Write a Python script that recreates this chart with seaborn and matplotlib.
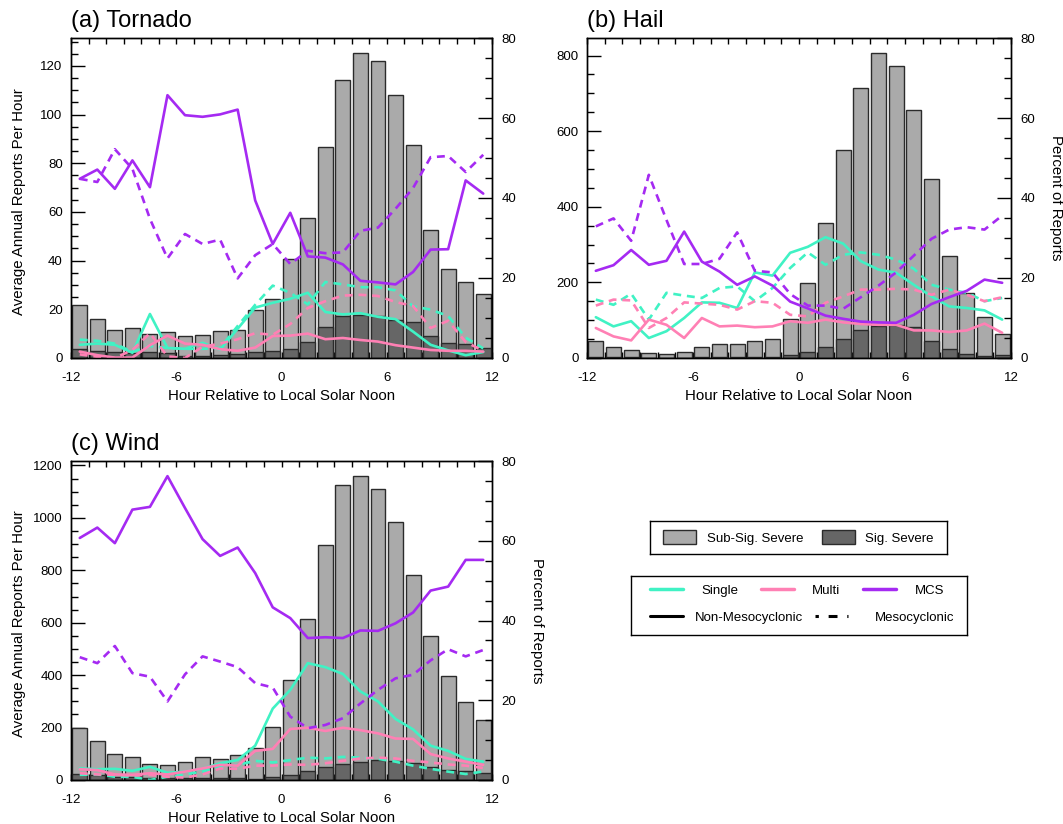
import pandas as pd
import seaborn as sns
import matplotlib.pyplot as plt
from matplotlib.ticker import MultipleLocator
from matplotlib.lines import Line2D
from matplotlib.patches import Patch

# hour bins relative to local solar noon (bin centres)
hours = [-11.5, -10.5, -9.5, -8.5, -7.5, -6.5, -5.5, -4.5, -3.5, -2.5, -1.5, -0.5,
         0.5, 1.5, 2.5, 3.5, 4.5, 5.5, 6.5, 7.5, 8.5, 9.5, 10.5, 11.5]

# (a) tornado: average annual reports per hour (all reports / significant)
tor_total = [21.6, 16.0, 11.5, 12.2, 10.0, 10.7, 9.1, 9.5, 10.9, 11.5, 19.8, 24.3,
             40.7, 57.7, 86.6, 114.4, 125.2, 121.9, 107.9, 87.3, 52.7, 36.5, 31.2, 26.4]
tor_sig = [3.7, 2.7, 2.5, 2.0, 2.5, 2.0, 1.0, 0.7, 1.4, 1.8, 2.5, 2.7,
           3.8, 6.6, 12.6, 17.4, 17.8, 17.4, 15.7, 14.9, 9.1, 6.2, 5.6, 4.3]
# percent of reports by storm mode
tor_single_non = [3.3, 3.6, 3.3, 1.3, 11.0, 2.5, 2.3, 3.8, 2.1, 7.3, 12.6, 13.8,
                  14.8, 16.3, 11.5, 10.9, 11.2, 10.3, 9.7, 6.6, 3.3, 1.9, 0.7, 1.5]
tor_single_meso = [4.6, 4.3, 3.6, 1.5, 3.0, 2.5, 2.3, 2.3, 2.5, 8.0, 13.3, 18.1,
                   16.3, 13.4, 19.0, 18.4, 17.7, 17.7, 16.9, 12.9, 12.1, 10.5, 5.1, 2.4]
tor_multi_non = [1.6, 0.7, 0.1, 0.1, 3.2, 5.6, 3.6, 3.3, 2.2, 1.8, 2.6, 5.5,
                 5.6, 6.1, 4.7, 5.0, 4.5, 4.1, 3.2, 2.6, 2.0, 1.8, 1.8, 1.6]
tor_multi_meso = [0.9, 0.3, 0.0, 2.0, 6.2, 0.4, 0.0, 2.8, 3.6, 4.7, 6.2, 5.8,
                  8.5, 12.5, 14.2, 15.6, 15.8, 15.5, 14.0, 13.0, 7.5, 9.3, 4.0, 1.8]
tor_mcs_non = [44.8, 47.1, 42.3, 49.4, 42.7, 65.7, 60.7, 60.3, 60.9, 62.1, 39.4, 28.5,
               36.3, 25.4, 25.1, 23.4, 19.3, 18.9, 18.4, 21.5, 27.1, 27.2, 44.4, 41.1]
tor_mcs_meso = [44.8, 44.0, 52.2, 47.3, 34.8, 24.9, 31.0, 28.5, 29.6, 19.9, 25.7, 28.5,
                23.5, 26.8, 26.2, 26.4, 31.8, 32.6, 37.3, 42.5, 50.2, 50.5, 46.5, 50.8]

# (b) hail
hail_total = [44, 29, 21, 13, 11.5, 16, 29, 37, 37, 44, 51, 102,
              198, 358, 551, 715, 806, 771, 655, 473, 269, 172, 108, 63]
hail_sig = [2, 2, 1.5, 1, 1, 1, 1.5, 2, 2, 2, 3, 8,
            17, 30, 50, 74, 85, 88, 82, 44, 24, 11, 6, 7]
hail_single_non = [10.2, 7.9, 9.2, 5.0, 6.7, 10.0, 13.9, 13.8, 12.5, 21.4, 20.6, 26.3,
                   27.8, 30.2, 28.6, 24.2, 22.1, 21.3, 18.3, 15.4, 12.9, 12.5, 11.9, 9.6]
hail_single_meso = [14.6, 13.3, 16.1, 9.6, 16.3, 15.6, 15.0, 17.5, 17.9, 14.2, 17.5, 22.5,
                    26.4, 23.3, 25.8, 26.4, 25.8, 24.6, 22.3, 18.3, 17.1, 16.3, 14.2, 15.0]
hail_multi_non = [7.5, 5.4, 4.4, 9.6, 8.3, 5.0, 10.0, 7.9, 8.1, 7.7, 7.9, 9.2,
                  8.8, 9.6, 8.9, 8.5, 8.3, 8.3, 6.9, 6.9, 6.5, 6.9, 8.6, 6.3]
hail_multi_meso = [13.1, 14.6, 14.4, 7.5, 10.0, 13.9, 13.6, 13.3, 12.1, 14.2, 13.8, 10.8,
                   10.4, 13.8, 15.4, 17.1, 17.1, 17.3, 17.1, 15.8, 17.1, 15.8, 14.2, 15.2]
hail_mcs_non = [21.8, 23.2, 27.0, 23.3, 24.3, 31.6, 24.1, 21.6, 18.3, 20.4, 18.1, 14.1,
                12.4, 10.6, 9.8, 9.1, 8.9, 8.8, 10.8, 13.5, 15.2, 16.8, 19.6, 18.8]
hail_mcs_meso = [32.9, 34.9, 29.3, 45.8, 34.5, 23.5, 23.5, 24.8, 31.4, 21.8, 21.4, 16.0,
                 13.1, 13.1, 12.3, 15.2, 18.1, 21.4, 25.6, 29.8, 32.1, 32.7, 32.1, 35.6]

# (c) wind
wind_total = [200, 147, 101, 88, 60, 57, 67, 86, 79, 97, 122, 203,
              380, 616, 896, 1124, 1159, 1109, 983, 781, 549, 397, 296, 230]
wind_sig = [22, 18, 13, 10, 9, 9, 9, 8, 8, 8, 5, 12,
            20, 33, 48, 61, 68, 75, 72, 63, 50, 40, 33, 27]
wind_single_non = [2.9, 2.7, 2.8, 2.3, 3.3, 1.8, 2.1, 2.8, 4.2, 5.0, 8.6, 17.9,
                   22.6, 29.3, 28.3, 26.6, 22.2, 19.7, 15.3, 12.7, 8.6, 7.3, 5.3, 4.6]
wind_single_meso = [1.3, 1.4, 0.8, 0.8, 0.0, 0.8, 1.4, 2.1, 3.3, 3.8, 4.8, 4.4,
                    5.0, 5.6, 5.4, 5.8, 5.6, 5.3, 4.6, 3.6, 2.8, 2.1, 1.5, 2.1]
wind_multi_non = [2.7, 2.5, 1.4, 1.3, 1.7, 1.4, 2.1, 2.9, 3.8, 3.6, 7.3, 7.8,
                  12.8, 13.1, 12.3, 13.1, 12.5, 11.7, 10.4, 10.3, 6.5, 5.4, 4.6, 3.8]
wind_multi_meso = [1.7, 1.4, 1.3, 1.1, 1.3, 0.8, 0.6, 1.4, 2.9, 2.8, 3.6, 3.6,
                   3.9, 3.8, 4.2, 4.8, 5.4, 5.6, 5.4, 4.8, 4.4, 3.9, 3.6, 3.0]
wind_mcs_non = [60.7, 63.3, 59.4, 67.8, 68.5, 76.2, 68.2, 60.4, 56.2, 58.3, 51.9, 43.3,
                40.6, 35.6, 35.8, 35.6, 37.5, 37.4, 39.3, 42.0, 47.5, 48.5, 55.2, 55.2]
wind_mcs_meso = [30.8, 29.3, 33.6, 26.8, 25.9, 19.7, 26.5, 31.0, 29.7, 28.3, 24.3, 23.2,
                 15.9, 13.0, 13.8, 15.5, 19.2, 22.6, 25.5, 26.4, 30.0, 32.8, 31.0, 32.6]

LIGHT = "#aaaaaa"
DARK = "#666666"
EDGE = "#2b2b2b"
palette = {"Single": "#40f2c4", "Multi": "#ff80b4", "MCS": "#a52af2"}
dash_map = {"Non-Mesocyclonic": "", "Mesocyclonic": (3, 2.2)}

sns.set_style("ticks")
plt.rcParams["font.family"] = ["Liberation Sans", "DejaVu Sans"]
plt.rcParams["axes.linewidth"] = 1.0
plt.rcParams["axes.unicode_minus"] = False
for key in ["text.color", "axes.labelcolor", "xtick.color", "ytick.color"]:
    plt.rcParams[key] = "black"


def lines_frame(single_non, single_meso, multi_non, multi_meso, mcs_non, mcs_meso):
    rows = []
    for storm, meso, vals in [("Single", "Non-Mesocyclonic", single_non),
                              ("Single", "Mesocyclonic", single_meso),
                              ("Multi", "Non-Mesocyclonic", multi_non),
                              ("Multi", "Mesocyclonic", multi_meso),
                              ("MCS", "Non-Mesocyclonic", mcs_non),
                              ("MCS", "Mesocyclonic", mcs_meso)]:
        for h, v in zip(hours, vals):
            rows.append({"hour": h, "pct": v, "storm": storm, "meso": meso})
    return pd.DataFrame(rows)


def draw_panel(ax, title, total, sig, lines, major, minor, left_label, right_label):
    bars = pd.DataFrame({"hour": hours, "total": total, "sig": sig})
    sns.barplot(data=bars, x="hour", y="total", native_scale=True, width=0.85,
                color=LIGHT, edgecolor=EDGE, linewidth=1.0, saturation=1,
                errorbar=None, ax=ax)
    sns.barplot(data=bars, x="hour", y="sig", native_scale=True, width=0.85,
                color=DARK, edgecolor=EDGE, linewidth=1.0, saturation=1,
                errorbar=None, ax=ax)
    ax.set_xlim(-12, 12)
    ax.set_ylim(0, max(total) * 1.05)
    ax.xaxis.set_major_locator(MultipleLocator(6))
    ax.xaxis.set_minor_locator(MultipleLocator(1))
    ax.yaxis.set_major_locator(MultipleLocator(major))
    ax.yaxis.set_minor_locator(MultipleLocator(minor))
    ax.tick_params(axis="x", which="both", direction="in", top=True, bottom=True,
                   length=4, width=1, labelsize=9.5, pad=10)
    ax.tick_params(axis="y", which="major", direction="in", length=10, width=1,
                   labelsize=9.5, pad=6)
    ax.tick_params(axis="y", which="minor", direction="in", length=5, width=1)
    ax.set_xlabel("Hour Relative to Local Solar Noon", fontsize=10.8, labelpad=4)
    if left_label:
        ax.set_ylabel("Average Annual Reports Per Hour", fontsize=10.8)
        ax.yaxis.set_label_coords(-0.108, 0.49)
    else:
        ax.set_ylabel("")
    ax.set_title(title, loc="left", fontsize=17, pad=8)

    ax2 = ax.twinx()
    sns.lineplot(data=lines, x="hour", y="pct", hue="storm", style="meso",
                 hue_order=["Single", "Multi", "MCS"],
                 style_order=["Non-Mesocyclonic", "Mesocyclonic"],
                 palette=palette, dashes=dash_map, linewidth=1.9,
                 errorbar=None, legend=False, ax=ax2)
    ax2.set_ylim(0, 80)
    ax2.yaxis.set_major_locator(MultipleLocator(20))
    ax2.yaxis.set_minor_locator(MultipleLocator(5))
    ax2.tick_params(axis="y", which="major", direction="in", length=10, width=1,
                    labelsize=9.5, pad=7)
    ax2.tick_params(axis="y", which="minor", direction="in", length=5, width=1)
    if right_label:
        ax2.set_ylabel("Percent of Reports", fontsize=10.8, rotation=270, va="bottom")
        ax2.yaxis.set_label_coords(1.09, 0.5)
    else:
        ax2.set_ylabel("")
    for a in (ax, ax2):
        for s in a.spines.values():
            s.set_color("black")
            s.set_linewidth(1.0)


fig = plt.figure(figsize=(10.63, 8.24), dpi=100)
W, H = 1063, 824
ax_a = fig.add_axes([71 / W, 1 - 358 / H, 421 / W, 320 / H])
ax_b = fig.add_axes([587 / W, 1 - 358 / H, 424 / W, 320 / H])
ax_c = fig.add_axes([71 / W, 1 - 780 / H, 421 / W, 319 / H])

draw_panel(ax_a, "(a) Tornado", tor_total, tor_sig,
           lines_frame(tor_single_non, tor_single_meso, tor_multi_non,
                       tor_multi_meso, tor_mcs_non, tor_mcs_meso),
           20, 5, True, False)
draw_panel(ax_b, "(b) Hail", hail_total, hail_sig,
           lines_frame(hail_single_non, hail_single_meso, hail_multi_non,
                       hail_multi_meso, hail_mcs_non, hail_mcs_meso),
           200, 50, False, True)
draw_panel(ax_c, "(c) Wind", wind_total, wind_sig,
           lines_frame(wind_single_non, wind_single_meso, wind_multi_non,
                       wind_multi_meso, wind_mcs_non, wind_mcs_meso),
           200, 50, True, True)

# legend boxes
lax1 = fig.add_axes([650 / W, 1 - 554 / H, 297 / W, 33 / H])
lax2 = fig.add_axes([631 / W, 1 - 635 / H, 336 / W, 59 / H])
for lax in (lax1, lax2):
    lax.set_xticks([])
    lax.set_yticks([])
    for s in lax.spines.values():
        s.set_color("black")
        s.set_linewidth(1.0)

bar_handles = [Patch(facecolor=LIGHT, edgecolor=EDGE, label="Sub-Sig. Severe"),
               Patch(facecolor=DARK, edgecolor=EDGE, label="Sig. Severe")]
lax1.legend(handles=bar_handles, ncol=2, loc="center", frameon=False, fontsize=9.5,
            handlelength=2.5, handleheight=1.2, handletextpad=0.8, columnspacing=1.4)

mode_handles = [Line2D([], [], color=palette[k], lw=2.5, label=k)
                for k in ["Single", "Multi", "MCS"]]
leg_a = lax2.legend(handles=mode_handles, ncol=3, loc="center left",
                    bbox_to_anchor=(19 / 336, 0.75), frameon=False, fontsize=9.5,
                    borderpad=0, borderaxespad=0, handlelength=2.5,
                    handletextpad=1.4, columnspacing=1.7)
lax2.add_artist(leg_a)
leg_b = lax2.legend(handles=[Line2D([], [], color="black", lw=2.2,
                                    label="Non-Mesocyclonic")],
                    loc="center left", bbox_to_anchor=(19 / 336, 0.29),
                    frameon=False, fontsize=9.5, borderpad=0, borderaxespad=0,
                    handlelength=2.5, handletextpad=0.9)
lax2.add_artist(leg_b)
lax2.legend(handles=[Line2D([], [], color="black", lw=2.2,
                            linestyle=(1.8, (2.9, 3.2)), label="Mesocyclonic")],
            loc="center left", bbox_to_anchor=(184 / 336, 0.29),
            frameon=False, fontsize=9.5, borderpad=0, borderaxespad=0,
            handlelength=2.5, handletextpad=2.0)

fig.savefig("out.png", dpi=100)
